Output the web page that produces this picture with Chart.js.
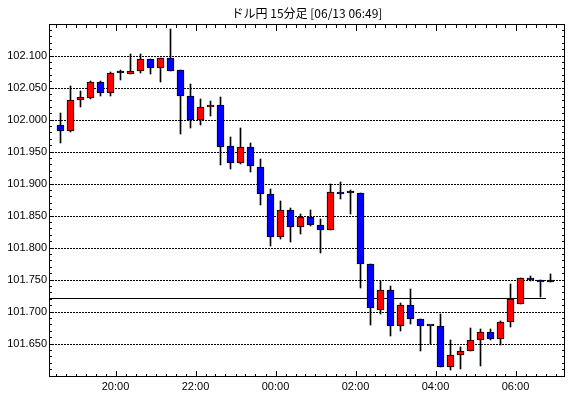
<!DOCTYPE html>
<html>
<head>
<meta charset="utf-8">
<script src="https://cdn.jsdelivr.net/npm/chart.js@4.4.1/dist/chart.umd.min.js"></script>
<style>
  body { margin: 0; background: #fff; }
  #wrap { width: 570px; height: 398px; }
</style>
</head>
<body>
<div id="wrap"><canvas id="chart" width="570" height="398"></canvas></div>
<script>
// ドル円 15分足 - candles
var times = [
  '18:30','18:45','19:00','19:15','19:30','19:45','20:00','20:15','20:30','20:45',
  '21:00','21:15','21:30','21:45','22:00','22:15','22:30','22:45','23:00','23:15',
  '23:30','23:45','00:00','00:15','00:30','00:45','01:00','01:15','01:30','01:45',
  '02:00','02:15','02:30','02:45','03:00','03:15','03:30','03:45','04:00','04:15',
  '04:30','04:45','05:00','05:15','05:30','05:45','06:00','06:15','06:30','06:45'
];
var open = [
  101.991, 101.982, 102.030, 102.034, 102.058, 102.041, 102.073, 102.071, 102.076, 102.094,
  102.081, 102.096, 102.077, 102.036, 102.000, 102.019, 102.022, 101.958, 101.932, 101.957,
  101.926, 101.883, 101.816, 101.858, 101.832, 101.847, 101.835, 101.828, 101.886, 101.885,
  101.885, 101.775, 101.703, 101.733, 101.677, 101.710, 101.688, 101.678, 101.678, 101.614,
  101.632, 101.639, 101.655, 101.668, 101.657, 101.683, 101.711, 101.752, 101.749, 101.746
];
var high = [
  102.010, 102.052, 102.045, 102.060, 102.060, 102.074, 102.077, 102.103, 102.102, 102.094,
  102.096, 102.141, 102.077, 102.056, 102.032, 102.029, 102.035, 101.972, 101.987, 101.963,
  101.939, 101.891, 101.873, 101.861, 101.852, 101.858, 101.845, 101.900, 101.902, 101.890,
  101.885, 101.775, 101.748, 101.740, 101.714, 101.735, 101.688, 101.678, 101.696, 101.656,
  101.644, 101.675, 101.672, 101.672, 101.685, 101.743, 101.752, 101.756, 101.749, 101.758
];
var low = [
  101.963, 101.981, 102.020, 102.032, 102.036, 102.037, 102.062, 102.071, 102.073, 102.071,
  102.059, 102.076, 101.978, 101.986, 101.992, 102.006, 101.929, 101.922, 101.931, 101.918,
  101.866, 101.802, 101.814, 101.808, 101.821, 101.833, 101.792, 101.828, 101.876, 101.852,
  101.737, 101.679, 101.696, 101.661, 101.670, 101.680, 101.638, 101.650, 101.614, 101.608,
  101.610, 101.638, 101.615, 101.655, 101.647, 101.676, 101.711, 101.747, 101.723, 101.746
];
var close = [
  101.982, 102.030, 102.035, 102.058, 102.041, 102.072, 102.073, 102.076, 102.094, 102.081,
  102.096, 102.076, 102.037, 102.000, 102.019, 102.022, 101.957, 101.932, 101.957, 101.927,
  101.884, 101.816, 101.858, 101.832, 101.847, 101.835, 101.828, 101.886, 101.883, 101.885,
  101.775, 101.705, 101.733, 101.677, 101.710, 101.688, 101.678, 101.678, 101.614, 101.632,
  101.639, 101.655, 101.668, 101.657, 101.683, 101.720, 101.752, 101.749, 101.746, 101.746
];
var hourLabels = ['20:00', '22:00', '00:00', '02:00', '04:00', '06:00'];
var yTicks = [101.65, 101.70, 101.75, 101.80, 101.85, 101.90, 101.95, 102.00, 102.05, 102.10];
var baseLevel = 101.7204;
var baseEnd = 48.5; // the level line stops just before the last candle

var hourIdx = hourLabels.map(function (t) { return times.indexOf(t); });

var bodies = [], wicks = [], bodyColors = [];
for (var i = 0; i < times.length; i++) {
  bodies.push({ x: i, y: [Math.min(open[i], close[i]), Math.max(open[i], close[i])] });
  wicks.push({ x: i, y: [low[i], high[i]] });
  bodyColors.push(close[i] > open[i] ? '#ff0000' : (close[i] < open[i] ? '#0000ff' : '#000000'));
}

// frame, small inward ticks on all four sides, and the level line
var frameTicks = {
  id: 'frameTicks',
  beforeDatasetsDraw: function (chart) {
    var ctx = chart.ctx, a = chart.chartArea, x = chart.scales.x, y = chart.scales.y;
    ctx.save();
    ctx.strokeStyle = '#000';
    ctx.lineWidth = 1;
    ctx.beginPath();
    for (var k = 0; k <= times.length; k++) {
      var px = Math.round(x.getPixelForValue(k - 0.5)) + 0.5;
      if (px <= a.left + 1 || px >= a.right - 1) continue;
      var len = hourIdx.indexOf(k) >= 0 ? 6 : 3;
      ctx.moveTo(px, a.top); ctx.lineTo(px, a.top + len);
      ctx.moveTo(px, a.bottom); ctx.lineTo(px, a.bottom - len);
    }
    for (var j = 0; j <= 54; j++) {
      var py = Math.round(y.getPixelForValue(101.60 + j * 0.01)) + 0.5;
      if (py <= a.top + 1 || py >= a.bottom - 1) continue;
      ctx.moveTo(a.left, py); ctx.lineTo(a.left + 3, py);
      ctx.moveTo(a.right, py); ctx.lineTo(a.right - 3, py);
    }
    var by = Math.round(y.getPixelForValue(baseLevel)) + 0.5;
    ctx.moveTo(a.left, by);
    ctx.lineTo(Math.round(x.getPixelForValue(baseEnd)), by);
    ctx.stroke();
    ctx.strokeRect(Math.round(a.left) + 0.5, Math.round(a.top) - 0.5,
                   Math.round(a.right - a.left) - 1, Math.round(a.bottom - a.top));
    ctx.restore();
  }
};

Chart.defaults.font.family = 'Liberation Sans';
Chart.defaults.font.size = 11;
Chart.defaults.color = '#000';

var canvas = document.getElementById('chart').getContext('2d');
window.candles = new Chart(canvas, {
  type: 'bar',
  data: {
    datasets: [{
      label: 'body',
      data: bodies,
      backgroundColor: bodyColors,
      borderColor: '#000',
      borderWidth: 1,
      borderSkipped: false,
      barThickness: 7,
      minBarLength: 2,
      grouped: false,
      order: 0
    }, {
      label: 'wick',
      data: wicks,
      backgroundColor: '#000',
      borderWidth: 0,
      barThickness: 1,
      grouped: false,
      order: 1
    }]
  },
  options: {
    responsive: false,
    animation: false,
    layout: { padding: { right: 5, left: 0, top: 0, bottom: 0 } },
    plugins: {
      legend: { display: false },
      tooltip: { enabled: false },
      title: {
        display: true,
        text: 'ドル円 15分足 [06/13 06:49]',
        fullSize: false,
        color: '#000',
        font: { family: 'Noto Sans CJK JP', size: 12, weight: 'normal' },
        padding: { top: 6, bottom: 4.6 }
      }
    },
    scales: {
      x: {
        type: 'linear',
        min: -1.15,
        max: 50.45,
        offset: false,
        grid: { display: false, drawTicks: false },
        border: { display: false },
        afterBuildTicks: function (s) {
          s.ticks = hourIdx.map(function (i) { return { value: i - 0.5 }; });
        },
        afterFit: function (s) { s.height = 21; },
        ticks: {
          autoSkip: false,
          maxRotation: 0,
          padding: 3,
          callback: function (v) { return times[Math.round(v + 0.5)]; }
        }
      },
      y: {
        min: 101.5977,
        max: 102.1477,
        alignToPixels: true,
        grid: { color: '#000', drawTicks: false, lineWidth: 1 },
        border: { display: false, dash: [2, 1] },
        afterBuildTicks: function (s) {
          s.ticks = yTicks.map(function (v) { return { value: v }; });
        },
        afterFit: function (s) { s.width = 49; },
        ticks: {
          padding: 2,
          callback: function (v) { return v.toFixed(3); }
        }
      }
    }
  },
  plugins: [frameTicks]
});
</script>
</body>
</html>
